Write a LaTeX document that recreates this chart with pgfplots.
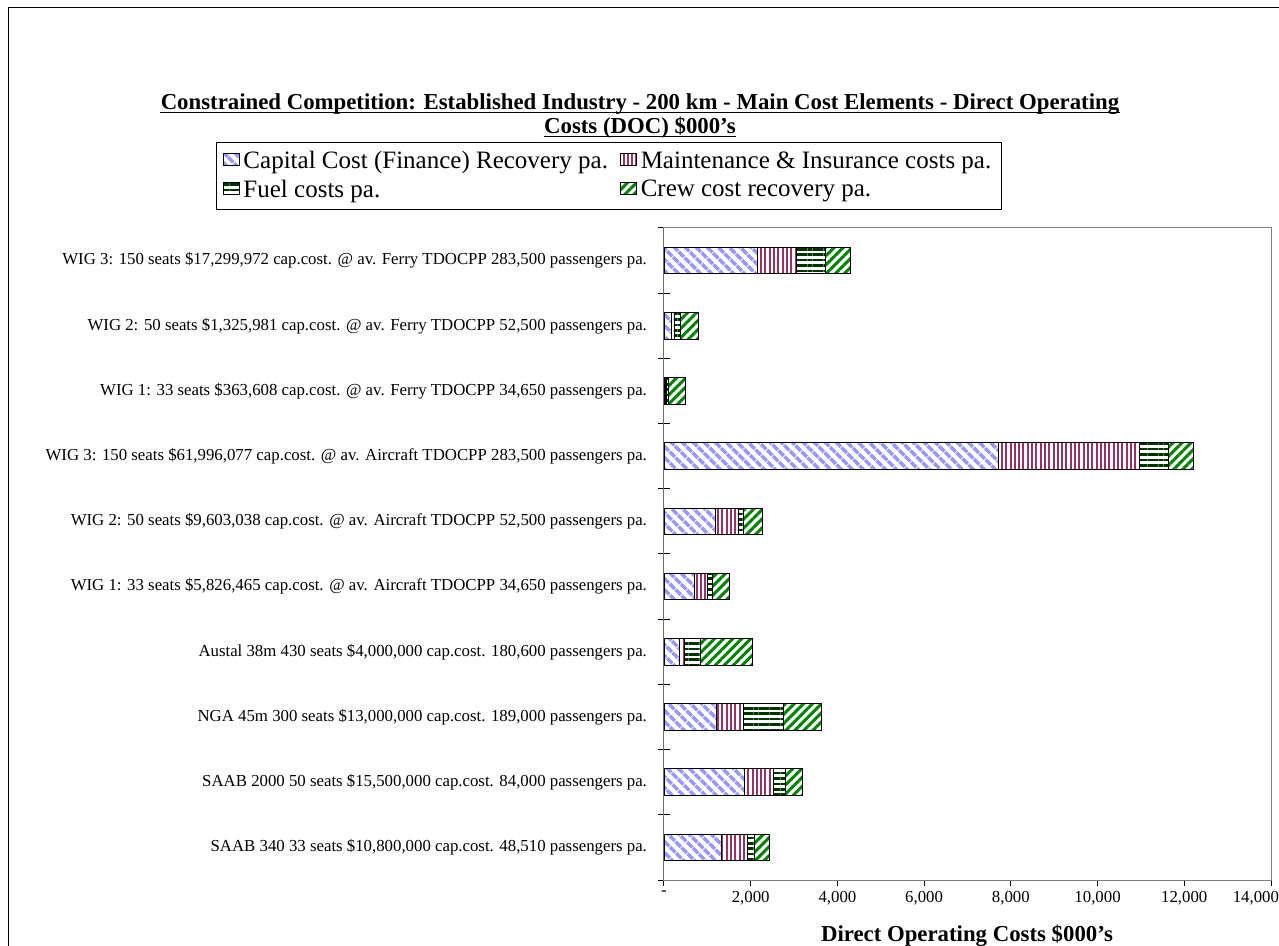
\documentclass[border=0pt]{standalone}
\usepackage{fontspec}
\setmainfont{Liberation Serif}
\usepackage{pgfplots}
\pgfplotsset{compat=1.18}
\usetikzlibrary{patterns.meta}

\definecolor{capblue}{HTML}{9999FF}
\definecolor{maintplum}{HTML}{993366}
\definecolor{fuelgreen}{HTML}{003300}
\definecolor{crewgreen}{HTML}{008000}
\definecolor{framegray}{HTML}{808080}

% Direct operating cost elements, $000's per annum (row 0 is drawn at the top)
\pgfplotstableread{
idx cap   maint fuel crew
0   2150  910   670  580
1   170   60    150  420
2   40    10    60   390
3   7720  3250  670  580
4   1190  515   115  445
5   710   290   105  395
6   360   110   370  1200
7   1200  620   945  855
8   1855  675   270  385
9   1315  615   145  360
}\doctable

\tikzset{
  legimg/.style={legend image code/.code={%
    \draw[##1,draw=black,line width=0.4pt] (0pt,-3.7pt) rectangle (7.4pt,3.7pt);}},
}

\begin{document}
\begin{tikzpicture}[x=0.5pt,y=0.5pt]
\useasboundingbox (0,0) rectangle (1279,946);
\fill[white] (0,0) rectangle (1279,946);
% chart area border
\draw[black,line width=0.5pt] (8,0) -- (8,938) -- (1279,938);
% title, two underlined lines
\node[font=\bfseries\fontsize{11.4}{12}\selectfont, anchor=base, inner sep=0pt] (t1) at (640,836)
  {Constrained Competition: Established Industry - 200 km - Main Cost Elements - Direct Operating};
\node[font=\bfseries\fontsize{11.4}{12}\selectfont, anchor=base, inner sep=0pt] (t2) at (640,812)
  {Costs (DOC) \$000's};
\draw[line width=0.7pt] ([yshift=-1.3pt]t1.base west) -- ([yshift=-1.3pt]t1.base east);
\draw[line width=0.7pt] ([yshift=-1.3pt]t2.base west) -- ([yshift=-1.3pt]t2.base east);
\begin{axis}[
  at={(332pt,33pt)}, anchor=south west,
  scale only axis, width=303.5pt, height=326pt,
  xbar stacked, bar width=13.3pt,
  xmin=0, xmax=14000, ymin=-0.5, ymax=9.5, y dir=reverse,
  axis line style={draw=framegray, line width=0.5pt},
  tick align=outside,
  xtick pos=bottom, ytick pos=left,
  scaled x ticks=false,
  xtick={0,2000,...,14000},
  xticklabels={-, {2,000}, {4,000}, {6,000}, {8,000}, {10,000}, {12,000},
    {\makebox[0pt][r]{14,000\hspace*{-4pt}}}},
  major tick length=3pt,
  x tick style={black, line width=0.5pt},
  ytick={0,...,9},
  major y tick style={draw=none},
  minor ytick={-0.5,0.5,...,9.5},
  minor tick length=6pt,
  minor y tick style={black, line width=0.5pt, xshift=3pt},
  yticklabels={
    {WIG 3: 150 seats \$17,299,972 cap.cost. @ av. Ferry TDOCPP 283,500 passengers pa.},
    {WIG 2: 50 seats \$1,325,981 cap.cost. @ av. Ferry TDOCPP 52,500 passengers pa.},
    {WIG 1: 33 seats \$363,608 cap.cost. @ av. Ferry TDOCPP 34,650 passengers pa.},
    {WIG 3: 150 seats \$61,996,077 cap.cost. @ av. Aircraft TDOCPP 283,500 passengers pa.},
    {WIG 2: 50 seats \$9,603,038 cap.cost. @ av. Aircraft TDOCPP 52,500 passengers pa.},
    {WIG 1: 33 seats \$5,826,465 cap.cost. @ av. Aircraft TDOCPP 34,650 passengers pa.},
    {Austal 38m 430 seats \$4,000,000 cap.cost. 180,600 passengers pa.},
    {NGA 45m 300 seats \$13,000,000 cap.cost. 189,000 passengers pa.},
    {SAAB 2000 50 seats \$15,500,000 cap.cost. 84,000 passengers pa.},
    {SAAB 340 33 seats \$10,800,000 cap.cost. 48,510 passengers pa.}},
  y tick label style={font=\fontsize{8.4}{9}\selectfont, anchor=east, xshift=-2pt},
  x tick label style={font=\fontsize{8.4}{9}\selectfont, yshift=1pt},
  legend columns=2,
  legend style={at={(-0.0906,1.1319)}, anchor=north, draw=black, line width=0.5pt,
    font=\fontsize{12.5}{15}\selectfont, inner xsep=3pt, inner ysep=2.5pt,
    /tikz/every even column/.append style={column sep=4pt},
    /tikz/every row/.append style={row sep=1pt}},
  legend cell align=left,
]
\addplot[draw=black, line width=0.4pt, pattern={Lines[angle=-45,distance=4pt,line width=1.9pt]}, pattern color=capblue, legimg]
  table[x=cap, y=idx] {\doctable};
\addlegendentry{Capital Cost (Finance) Recovery pa.}
\addplot[draw=black, line width=0.4pt, pattern={Lines[angle=90,distance=2.15pt,line width=1pt]}, pattern color=maintplum, legimg]
  table[x=maint, y=idx] {\doctable};
\addlegendentry{Maintenance \& Insurance costs pa.}
\addplot[draw=black, line width=0.4pt, pattern={Lines[angle=0,distance=2.7pt,line width=1.3pt]}, pattern color=fuelgreen, legimg]
  table[x=fuel, y=idx] {\doctable};
\addlegendentry{Fuel costs pa.}
\addplot[draw=black, line width=0.4pt, pattern={Lines[angle=45,distance=3.2pt,line width=1.5pt]}, pattern color=crewgreen, legimg]
  table[x=crew, y=idx] {\doctable};
\addlegendentry{Crew cost recovery pa.}
\draw[black, line width=0.5pt] (rel axis cs:0,0) -- (rel axis cs:0,1);
\end{axis}
\node[font=\bfseries\fontsize{11.4}{12}\selectfont] at (967,10) {Direct Operating Costs \$000's};
\end{tikzpicture}
\end{document}
